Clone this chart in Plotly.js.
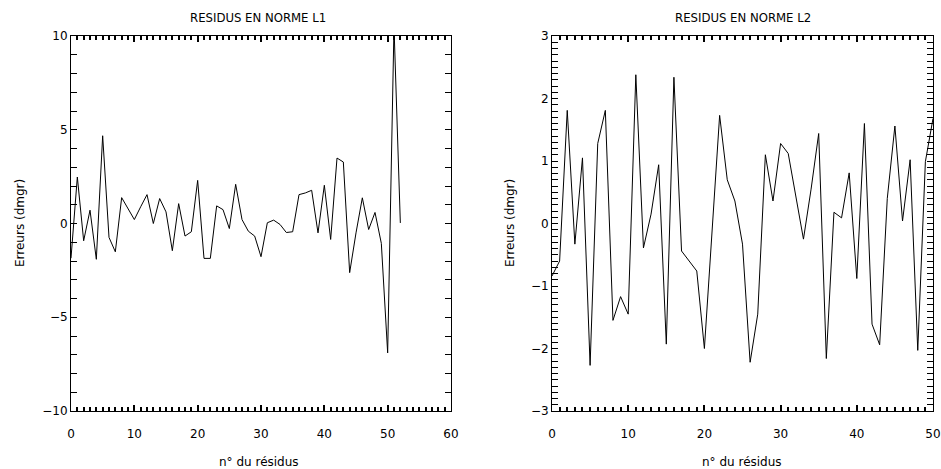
<!DOCTYPE html>
<html>
<head>
<meta charset="utf-8">
<script src="https://cdn.plot.ly/plotly-3.0.1.min.js"></script>
<style>html,body{margin:0;padding:0;background:#fff;}#chart{width:941px;height:469px;}</style>
</head>
<body>
<div id="chart"></div>
<script>
// Residus en norme L1 (n° du résidus 0..52)
const l1Index = [0,1,2,3,4,5,6,7,8,9,10,11,12,13,14,15,16,17,18,19,20,21,22,23,24,25,26,27,28,29,30,31,32,33,34,35,36,37,38,39,40,41,42,43,44,45,46,47,48,49,50,51,52];
const l1Errors = [-1.85,2.48,-0.92,0.71,-1.91,4.68,-0.74,-1.51,1.38,0.8,0.21,0.89,1.54,0.0,1.33,0.62,-1.45,1.06,-0.67,-0.44,2.3,-1.86,-1.86,0.94,0.74,-0.27,2.09,0.21,-0.41,-0.67,-1.77,0.04,0.18,-0.05,-0.48,-0.44,1.54,1.63,1.77,-0.5,2.04,-0.85,3.49,3.28,-2.62,-0.5,1.37,-0.32,0.59,-1.06,-6.9,10.5,0.03];

// Residus en norme L2 (n° du résidus 0..50)
const l2Index = [0,1,2,3,4,5,6,7,8,9,10,11,12,13,14,15,16,17,18,19,20,21,22,23,24,25,26,27,28,29,30,31,32,33,34,35,36,37,38,39,40,41,42,43,44,45,46,47,48,49,50];
const l2Errors = [-0.84,-0.6,1.81,-0.33,1.05,-2.27,1.28,1.81,-1.55,-1.17,-1.45,2.38,-0.39,0.15,0.94,-1.93,2.34,-0.44,-0.6,-0.76,-2.0,-0.1,1.73,0.7,0.36,-0.33,-2.22,-1.45,1.1,0.36,1.28,1.12,0.46,-0.25,0.55,1.44,-2.16,0.18,0.09,0.81,-0.88,1.6,-1.61,-1.94,0.4,1.56,0.04,1.02,-2.03,0.99,1.68];

const titles = ["RESIDUS EN NORME L1", "RESIDUS EN NORME L2"];
const xTitle = "n° du résidus";
const yTitle = "Erreurs (dmgr)";

const FONT = "DejaVu Sans, sans-serif";
const TFONT = "DejaVu Sans Condensed, DejaVu Sans, sans-serif";
const INK = "#000";

function axisBase(extra) {
  return Object.assign({
    showgrid: false, zeroline: false,
    showline: true, linecolor: INK,
    mirror: "allticks",
    ticks: "inside", ticklen: 6, tickcolor: INK,
    tickfont: {family: FONT, size: 12, color: INK}
  }, extra);
}
const minorTicks = (d, w) => ({dtick: d, ticks: "inside", ticklen: 4, tickcolor: INK, tickwidth: w});
// label-only x axes, overlaid, to set the labels lower than the inside ticks
function labelAxis(over, anchor, range) {
  return {overlaying: over, anchor: anchor, side: "bottom", range: range, dtick: 10,
    showgrid: false, zeroline: false, showline: false,
    ticks: "outside", ticklen: 12, tickcolor: "rgba(0,0,0,0)",
    tickfont: {family: FONT, size: 12, color: INK}};
}

const traces = [
  {x: l1Index, y: l1Errors, xaxis: "x", yaxis: "y", type: "scatter", mode: "lines",
   line: {color: INK, width: 1}, hoverinfo: "skip", showlegend: false},
  {x: l2Index, y: l2Errors, xaxis: "x2", yaxis: "y2", type: "scatter", mode: "lines",
   line: {color: INK, width: 1}, hoverinfo: "skip", showlegend: false},
  {x: [], y: [], xaxis: "x3", yaxis: "y", type: "scatter", mode: "lines", showlegend: false},
  {x: [], y: [], xaxis: "x4", yaxis: "y2", type: "scatter", mode: "lines", showlegend: false}
];

const W = 941, H = 469, ML = 71, MR = 8, MT = 36, MB = 58;
const PW = W - ML - MR, PH = H - MT - MB;
const px = v => (v - ML) / PW;
const py = v => (H - MB - v) / PH;

const layout = {
  width: W, height: H,
  margin: {l: ML, r: MR, t: MT, b: MB, pad: 0},
  paper_bgcolor: "#fff", plot_bgcolor: "#fff",
  font: {family: FONT, color: INK},
  showlegend: false,
  hovermode: false,
  xaxis: axisBase({domain: [0, px(451)], range: [0, 60], dtick: 10, anchor: "y", tickwidth: 1.5,
    showticklabels: false, minor: minorTicks(1, 1.5)}),
  yaxis: axisBase({domain: [0, 1], range: [-10, 10], dtick: 5, anchor: "x",
    minor: minorTicks(1, 1)}),
  xaxis2: axisBase({domain: [px(552), 1], range: [0, 50], dtick: 10, anchor: "y2", tickwidth: 1.5,
    showticklabels: false, minor: minorTicks(1, 1.5)}),
  yaxis2: axisBase({domain: [0, 1], range: [-3, 3], dtick: 1, anchor: "x2",
    minor: minorTicks(0.1, 1)}),
  xaxis3: labelAxis("x", "y", [0, 60]),
  xaxis4: labelAxis("x2", "y2", [0, 50]),
  annotations: [
    {text: titles[0], xref: "paper", yref: "paper", x: px(258), y: py(18), showarrow: false,
     xanchor: "center", yanchor: "middle", font: {family: TFONT, size: 13, color: INK}},
    {text: titles[1], xref: "paper", yref: "paper", x: px(743), y: py(18), showarrow: false,
     xanchor: "center", yanchor: "middle", font: {family: TFONT, size: 13, color: INK}},
    {text: xTitle, xref: "paper", yref: "paper", x: px(259), y: py(462), showarrow: false,
     xanchor: "center", yanchor: "middle", font: {family: FONT, size: 12, color: INK}},
    {text: xTitle, xref: "paper", yref: "paper", x: px(742), y: py(462), showarrow: false,
     xanchor: "center", yanchor: "middle", font: {family: FONT, size: 12, color: INK}},
    {text: yTitle, xref: "paper", yref: "paper", x: px(20), y: py(223), showarrow: false, textangle: -90,
     xanchor: "center", yanchor: "middle", font: {family: FONT, size: 12, color: INK}},
    {text: yTitle, xref: "paper", yref: "paper", x: px(510), y: py(223), showarrow: false, textangle: -90,
     xanchor: "center", yanchor: "middle", font: {family: FONT, size: 12, color: INK}}
  ]
};

Plotly.newPlot("chart", traces, layout, {displayModeBar: false, responsive: false});
</script>
</body>
</html>
